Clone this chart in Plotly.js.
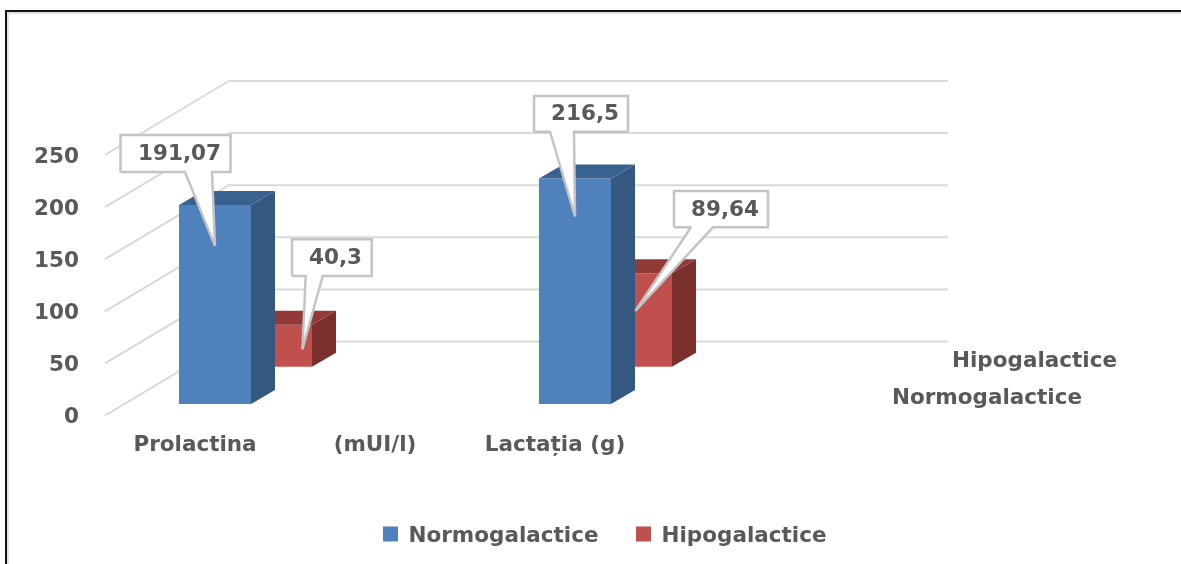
<!DOCTYPE html>
<html>
<head>
<meta charset="utf-8">
<script src="https://cdn.plot.ly/plotly-3.0.1.min.js"></script>
<style>
html,body{margin:0;padding:0;background:#fff;overflow:hidden;width:1181px;height:564px}
#frame{position:absolute;left:5px;top:10px;width:1176px;height:554px;box-sizing:border-box;border-left:2.5px solid #111;border-top:2.5px solid #111;box-shadow:inset 2px 2px 0 #e2e2e2}
#chart{position:absolute;left:0;top:0;width:1181px;height:564px;filter:blur(0.45px)}
/* the reference's legend keys are a little larger than Plotly's default bar key */
#chart g.legendpoints path{d:path("M9.5,7.5H-5.5V-7.5H9.5Z")}
</style>
</head>
<body>
<div id="frame"></div>
<div id="chart"></div>
<script>
// ---- data ----
const categories = ["Prolactina", "(mUI/l)", "Lactația (g)", ""];
const normogalactice = [191.07, null, 216.5, null];
const hipogalactice = [40.3, null, 89.64, null];
const normoLabels = ["191,07", null, "216,5", null];
const hipoLabels = ["40,3", null, "89,64", null];
const yTicks = [0, 50, 100, 150, 200, 250];
const seriesNames = ["Normogalactice", "Hipogalactice"];

// ---- chart geometry (pixels per data unit, pseudo-3D projection) ----
const W = 1181, H = 564;
const PX_CAT = 180, PX_VAL = 1.042;
const X0 = 195, Y0 = 415.5;          // pixel of category 0 / value 0
const PLOT = {l: 80, r: 21, t: 40, b: 148};
const px2x = p => (p - X0) / PX_CAT;
const py2y = p => (Y0 - p) / PX_VAL;
const dX = p => p / PX_CAT;
const dY = p => p / PX_VAL;
const WALL = {left: 105, dx: 124, dy: 74, right: 948};
const BAR_W = 72, SIDE_DX = 24, SIDE_DY = 14;
const GRID = "#d9d9d9", TEXT = "#595959";
const FONT = "'DejaVu Sans', sans-serif";
const FSIZE = 21.5;

const styles = [
  {name: seriesNames[0], vals: normogalactice, labels: normoLabels, dx: 20, dy: 11.5, front: "#4f81bd", side: "#34587f", top: "#3a6290"},
  {name: seriesNames[1], vals: hipogalactice, labels: hipoLabels, dx: 81, dy: 48.8, front: "#c0504d", side: "#7c302e", top: "#923a37"}
];

// callouts: offsets in pixels from (front-face centre, top of the bar)
const callouts = [
  [{box: [-94.5, 15.5, -70, -33], tail: [-30, -3], tip: [0, 41]}, null,
   {box: [-41, 53, -82.4, -46.7], tail: [-25, -1], tip: [0, 38]}, null],
  [{box: [16, 95.7, -85.4, -48.7], tail: [29.7, 46.7], tip: [26.4, 24.6]}, null,
   {box: [38, 132, -82.3, -46], tail: [55, 77], tip: [-0.7, 37.7]}, null]
];

const traces = [];
const annotations = [];

// wall grid lines (drawn under everything, on the value axis)
const gridShapes = [];
yTicks.forEach(v => {
  const backY = v + dY(WALL.dy), cornerX = px2x(WALL.left + WALL.dx);
  gridShapes.push({type: "line", layer: "below", xref: "x", yref: "y", x0: px2x(WALL.left), y0: v, x1: cornerX, y1: backY, line: {color: GRID, width: 2}});
  gridShapes.push({type: "line", layer: "below", xref: "x", yref: "y", x0: cornerX, y0: backY, x1: px2x(WALL.right), y1: backY, line: {color: GRID, width: 2}});
});

// bars: the red series sits on the base axes, the blue one on an overlay so that it hides the red
function addSeries(s, xa, ya, idx) {
  const xs = [], tops = [], bases = [];
  s.vals.forEach((v, i) => {
    if (v === null) return;
    xs.push(i + dX(s.dx)); tops.push(v); bases.push(dY(s.dy));
  });
  traces.push({type: "bar", name: s.name, x: xs, y: tops, base: bases, width: dX(BAR_W),
    marker: {color: s.front, line: {width: 0}}, xaxis: xa, yaxis: ya, hoverinfo: "skip",
    legendrank: idx + 1});
  xs.forEach((cx, k) => {
    const x1 = cx + dX(BAR_W / 2), x0 = cx - dX(BAR_W / 2);
    const yb = bases[k], yt = bases[k] + tops[k];
    const ddx = dX(SIDE_DX), ddy = dY(SIDE_DY);
    traces.push({type: "scatter", mode: "lines", fill: "toself", fillcolor: s.side, line: {width: 0, color: s.side},
      x: [x1, x1, x1 + ddx, x1 + ddx, x1], y: [yb, yt, yt + ddy, yb + ddy, yb],
      showlegend: false, hoverinfo: "skip", xaxis: xa, yaxis: ya});
    traces.push({type: "scatter", mode: "lines", fill: "toself", fillcolor: s.top, line: {width: 0, color: s.top},
      x: [x0, x1, x1 + ddx, x0 + ddx, x0], y: [yt, yt, yt + ddy, yt + ddy, yt],
      showlegend: false, hoverinfo: "skip", xaxis: xa, yaxis: ya});
  });
}
addSeries(styles[1], "x", "y", 1);
addSeries(styles[0], "x2", "y2", 0);

// data-label callouts
styles.forEach((s, si) => {
  s.vals.forEach((v, i) => {
    if (v === null) return;
    const c = callouts[si][i];
    const ax = i + dX(s.dx), ay = v + dY(s.dy);
    const X = p => ax + dX(p), Y = p => ay - dY(p);
    const xs = [c.box[0], c.tail[0], c.tip[0], c.tail[1], c.box[1], c.box[1], c.box[0], c.box[0]];
    const ys = [c.box[3], c.box[3], c.tip[1], c.box[3], c.box[3], c.box[2], c.box[2], c.box[3]];
    traces.push({type: "scatter", mode: "lines", fill: "toself", fillcolor: "#ffffff",
      line: {color: "#c4c4c4", width: 2.5, shape: "linear"},
      x: xs.map(X), y: ys.map(Y), showlegend: false, hoverinfo: "skip", xaxis: "x2", yaxis: "y2"});
    annotations.push({xref: "x2", yref: "y2", x: X((c.box[0] + c.box[1]) / 2), y: Y((c.box[2] + c.box[3]) / 2),
      xshift: 4, yshift: 1, text: s.labels[i], showarrow: false,
      font: {family: FONT, size: FSIZE, color: TEXT, weight: 700}});
  });
});

// depth-axis labels
[[seriesNames[1], 1034.5, 359], [seriesNames[0], 987, 396]].forEach(d => {
  annotations.push({xref: "x", yref: "y", x: px2x(d[1]), y: py2y(d[2]), text: d[0], showarrow: false,
    font: {family: FONT, size: FSIZE, color: TEXT, weight: 700}});
});

const xRange = [px2x(PLOT.l), px2x(W - PLOT.r)];
const yRange = [py2y(H - PLOT.b), py2y(PLOT.t)];
const layout = {
  width: W, height: H,
  margin: {l: PLOT.l, r: PLOT.r, t: PLOT.t, b: PLOT.b, pad: 0},
  paper_bgcolor: "rgba(0,0,0,0)", plot_bgcolor: "rgba(0,0,0,0)",
  barmode: "overlay",
  font: {family: FONT, size: FSIZE, color: TEXT, weight: 700},
  xaxis: {range: xRange, tickmode: "array", tickvals: categories.map((c, i) => i), ticktext: categories,
    showgrid: false, zeroline: false, showline: false, ticks: "", ticklabelstandoff: 12,
    tickangle: 0, tickfont: {family: FONT, size: FSIZE, color: TEXT, weight: 700}},
  yaxis: {range: yRange, tickmode: "array", tickvals: yTicks, ticktext: yTicks.map(String),
    showgrid: false, zeroline: false, showline: false, ticks: "",
    tickfont: {family: FONT, size: FSIZE, color: TEXT, weight: 700}},
  xaxis2: {range: xRange, overlaying: "x", visible: false, anchor: "y2"},
  yaxis2: {range: yRange, overlaying: "y", visible: false, anchor: "x2"},
  legend: {orientation: "h", xref: "container", yref: "container", x: 368.5 / W, xanchor: "left",
    y: (H - 534) / H, yanchor: "middle", entrywidth: 208, entrywidthmode: "pixels", traceorder: "normal",
    font: {family: FONT, size: FSIZE, color: TEXT, weight: 700}, bgcolor: "rgba(0,0,0,0)"},
  shapes: gridShapes,
  annotations: annotations,
  showlegend: true
};
Plotly.newPlot("chart", traces, layout, {staticPlot: true, displayModeBar: false});
</script>
</body>
</html>
